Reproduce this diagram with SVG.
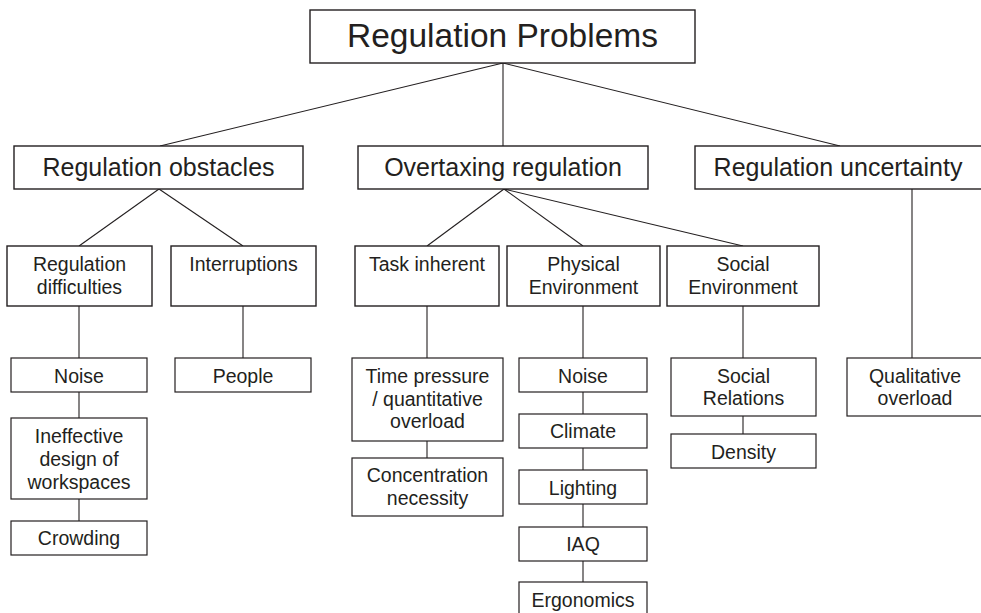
<svg xmlns="http://www.w3.org/2000/svg" width="981" height="613" viewBox="0 0 981 613">
<style>
  .box { fill: #ffffff; stroke: #231f20; stroke-width: 1.4; }
  .sbox { fill: #ffffff; stroke: #231f20; stroke-width: 1.2; }
  .lnk { stroke: #231f20; stroke-width: 1.1; fill: none; }
  text { font-family: "Liberation Sans", Arial, sans-serif; fill: #231f20; text-anchor: middle; }
  .t1 { font-size: 33.5px; }
  .t2 { font-size: 25px; }
  .t3 { font-size: 19.5px; }
</style>
<rect width="981" height="613" fill="#ffffff"/>
<g id="connectors">
  <line class="lnk" x1="503" y1="63" x2="160" y2="146"/>
  <line class="lnk" x1="503" y1="63" x2="503" y2="146"/>
  <line class="lnk" x1="503" y1="63" x2="840" y2="146"/>
  <line class="lnk" x1="159" y1="189" x2="79" y2="246"/>
  <line class="lnk" x1="159" y1="189" x2="243" y2="246"/>
  <line class="lnk" x1="504" y1="189" x2="427" y2="246"/>
  <line class="lnk" x1="504" y1="189" x2="583" y2="246"/>
  <line class="lnk" x1="504" y1="189" x2="743" y2="246"/>
  <line class="lnk" x1="912" y1="189" x2="912" y2="358"/>
  <line class="lnk" x1="79" y1="306" x2="79" y2="358"/>
  <line class="lnk" x1="79" y1="392" x2="79" y2="418"/>
  <line class="lnk" x1="79" y1="499" x2="79" y2="521"/>
  <line class="lnk" x1="243" y1="306" x2="243" y2="358"/>
  <line class="lnk" x1="427" y1="306" x2="427" y2="358"/>
  <line class="lnk" x1="427" y1="441" x2="427" y2="458"/>
  <line class="lnk" x1="583" y1="306" x2="583" y2="358"/>
  <line class="lnk" x1="583" y1="392" x2="583" y2="414"/>
  <line class="lnk" x1="583" y1="448" x2="583" y2="470"/>
  <line class="lnk" x1="583" y1="504" x2="583" y2="527"/>
  <line class="lnk" x1="583" y1="561" x2="583" y2="582"/>
  <line class="lnk" x1="743" y1="306" x2="743" y2="358"/>
  <line class="lnk" x1="743" y1="416" x2="743" y2="434"/>
</g>
<g id="root">
  <rect class="box" x="310" y="10" width="385" height="53"/>
  <text class="t1" x="502.5" y="47">Regulation Problems</text>
</g>
<g id="obstacles">
  <rect class="box" x="14" y="146" width="289" height="43"/>
  <text class="t2" x="158.5" y="176">Regulation obstacles</text>
</g>
<g id="overtaxing">
  <rect class="box" x="358" y="146" width="290" height="43"/>
  <text class="t2" x="503" y="176">Overtaxing regulation</text>
</g>
<g id="uncertainty">
  <rect class="box" x="695" y="146" width="288" height="43"/>
  <text class="t2" x="838" y="176">Regulation uncertainty</text>
</g>
<g id="difficulties">
  <rect class="box" x="7" y="246" width="145" height="60"/>
  <text class="t3" x="79.5" y="271">Regulation</text>
  <text class="t3" x="79.5" y="294">difficulties</text>
</g>
<g id="interruptions">
  <rect class="box" x="171" y="246" width="145" height="60"/>
  <text class="t3" x="243.5" y="271">Interruptions</text>
</g>
<g id="task">
  <rect class="box" x="355" y="246" width="144" height="60"/>
  <text class="t3" x="427" y="271">Task inherent</text>
</g>
<g id="physical">
  <rect class="box" x="507" y="246" width="153" height="60"/>
  <text class="t3" x="583.5" y="271">Physical</text>
  <text class="t3" x="583.5" y="294">Environment</text>
</g>
<g id="social">
  <rect class="box" x="667" y="246" width="152" height="60"/>
  <text class="t3" x="743" y="271">Social</text>
  <text class="t3" x="743" y="294">Environment</text>
</g>
<g id="noise1">
  <rect class="sbox" x="11" y="358" width="136" height="34"/>
  <text class="t3" x="79" y="383">Noise</text>
</g>
<g id="ineffective">
  <rect class="sbox" x="11" y="418" width="136" height="81"/>
  <text class="t3" x="79" y="443">Ineffective</text>
  <text class="t3" x="79" y="466">design of</text>
  <text class="t3" x="79" y="489">workspaces</text>
</g>
<g id="crowding">
  <rect class="sbox" x="11" y="521" width="136" height="34"/>
  <text class="t3" x="79" y="545">Crowding</text>
</g>
<g id="people">
  <rect class="sbox" x="175" y="358" width="136" height="34"/>
  <text class="t3" x="243" y="383">People</text>
</g>
<g id="timepressure">
  <rect class="sbox" x="352" y="358" width="151" height="83"/>
  <text class="t3" x="427.5" y="383">Time pressure</text>
  <text class="t3" x="427.5" y="406">/ quantitative</text>
  <text class="t3" x="427.5" y="428">overload</text>
</g>
<g id="concentration">
  <rect class="sbox" x="352" y="458" width="151" height="58"/>
  <text class="t3" x="427.5" y="482">Concentration</text>
  <text class="t3" x="427.5" y="505">necessity</text>
</g>
<g id="noise2">
  <rect class="sbox" x="519" y="358" width="128" height="34"/>
  <text class="t3" x="583" y="383">Noise</text>
</g>
<g id="climate">
  <rect class="sbox" x="519" y="414" width="128" height="34"/>
  <text class="t3" x="583" y="438">Climate</text>
</g>
<g id="lighting">
  <rect class="sbox" x="519" y="470" width="128" height="34"/>
  <text class="t3" x="583" y="495">Lighting</text>
</g>
<g id="iaq">
  <rect class="sbox" x="519" y="527" width="128" height="34"/>
  <text class="t3" x="583" y="551">IAQ</text>
</g>
<g id="ergonomics">
  <rect class="sbox" x="519" y="582" width="128" height="34"/>
  <text class="t3" x="583" y="607">Ergonomics</text>
</g>
<g id="socialrelations">
  <rect class="sbox" x="671" y="358" width="145" height="58"/>
  <text class="t3" x="743.5" y="383">Social</text>
  <text class="t3" x="743.5" y="405">Relations</text>
</g>
<g id="density">
  <rect class="sbox" x="671" y="434" width="145" height="34"/>
  <text class="t3" x="743.5" y="459">Density</text>
</g>
<g id="qualitative">
  <rect class="sbox" x="847" y="358" width="136" height="58"/>
  <text class="t3" x="915" y="383">Qualitative</text>
  <text class="t3" x="915" y="405">overload</text>
</g>
</svg>
